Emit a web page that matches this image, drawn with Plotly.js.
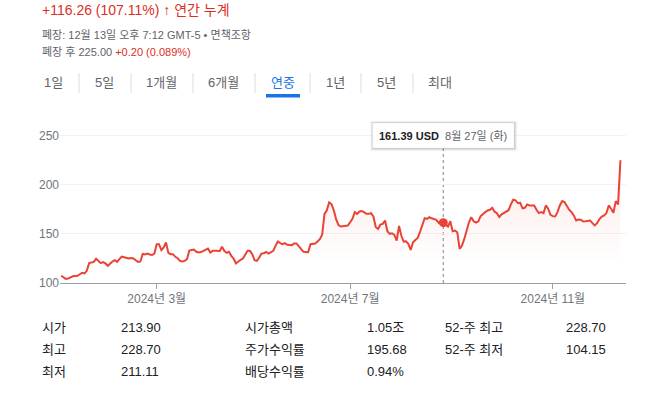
<!DOCTYPE html>
<html>
<head>
<meta charset="utf-8">
<script src="https://cdn.plot.ly/plotly-3.0.1.min.js"></script>
<style>
  html, body { margin: 0; padding: 0; background: #ffffff; }
  #chart { width: 646px; height: 393px; }
</style>
</head>
<body>
<div id="chart"></div>
<script>
// ---------------- DATA ----------------
const dates = [
  '2024-01-02','2024-01-04','2024-01-05','2024-01-09','2024-01-11','2024-01-12','2024-01-16','2024-01-17','2024-01-18','2024-01-19',
  '2024-01-23','2024-01-24','2024-01-25','2024-01-26','2024-01-29','2024-01-30','2024-01-31',
  '2024-02-01','2024-02-02','2024-02-05','2024-02-06','2024-02-07','2024-02-08','2024-02-09','2024-02-12','2024-02-13','2024-02-14',
  '2024-02-15','2024-02-16','2024-02-20','2024-02-21','2024-02-22','2024-02-23','2024-02-26','2024-02-27','2024-02-28','2024-02-29',
  '2024-03-01','2024-03-04','2024-03-05','2024-03-06','2024-03-07','2024-03-08','2024-03-11','2024-03-12','2024-03-13','2024-03-14',
  '2024-03-15','2024-03-18','2024-03-19','2024-03-20','2024-03-21','2024-03-22','2024-03-25','2024-03-26','2024-03-27','2024-03-28',
  '2024-04-01','2024-04-02','2024-04-03','2024-04-04','2024-04-05','2024-04-09','2024-04-10','2024-04-11','2024-04-12','2024-04-15',
  '2024-04-16','2024-04-17','2024-04-18','2024-04-19','2024-04-22','2024-04-23','2024-04-24','2024-04-26','2024-04-29','2024-04-30',
  '2024-05-01','2024-05-02','2024-05-03','2024-05-06','2024-05-07','2024-05-08','2024-05-09','2024-05-10','2024-05-13','2024-05-14',
  '2024-05-15','2024-05-16','2024-05-17','2024-05-20','2024-05-21','2024-05-23','2024-05-24','2024-05-28','2024-05-29','2024-05-30',
  '2024-05-31','2024-06-04','2024-06-05','2024-06-06','2024-06-07','2024-06-10','2024-06-11','2024-06-12','2024-06-13','2024-06-14',
  '2024-06-17','2024-06-18','2024-06-20','2024-06-21','2024-06-24','2024-06-25','2024-06-26','2024-06-27','2024-06-28',
  '2024-07-01','2024-07-02','2024-07-03','2024-07-05','2024-07-08','2024-07-09','2024-07-10','2024-07-11','2024-07-12','2024-07-15',
  '2024-07-16','2024-07-17','2024-07-18','2024-07-19','2024-07-22','2024-07-23','2024-07-24','2024-07-25','2024-07-26','2024-07-29',
  '2024-07-30','2024-07-31',
  '2024-08-01','2024-08-02','2024-08-05','2024-08-06','2024-08-07','2024-08-08','2024-08-09','2024-08-12','2024-08-13','2024-08-14',
  '2024-08-15','2024-08-16','2024-08-19','2024-08-20','2024-08-21','2024-08-22','2024-08-23','2024-08-26','2024-08-27','2024-08-28',
  '2024-08-29','2024-08-30',
  '2024-09-03','2024-09-04','2024-09-05','2024-09-06','2024-09-09','2024-09-10','2024-09-11','2024-09-12','2024-09-13','2024-09-16',
  '2024-09-17','2024-09-18','2024-09-19','2024-09-20','2024-09-23','2024-09-24','2024-09-25','2024-09-26','2024-09-27','2024-09-30',
  '2024-10-01','2024-10-02','2024-10-03','2024-10-04','2024-10-07','2024-10-08','2024-10-09','2024-10-10','2024-10-11','2024-10-14',
  '2024-10-15','2024-10-16','2024-10-17','2024-10-18','2024-10-21','2024-10-22','2024-10-23','2024-10-24','2024-10-25','2024-10-28',
  '2024-10-29','2024-10-30','2024-10-31',
  '2024-11-01','2024-11-04','2024-11-05','2024-11-06','2024-11-07','2024-11-08','2024-11-11','2024-11-12','2024-11-13','2024-11-14',
  '2024-11-15','2024-11-18','2024-11-19','2024-11-20','2024-11-21','2024-11-22','2024-11-25','2024-11-26','2024-11-27','2024-11-29',
  '2024-12-02','2024-12-03','2024-12-04','2024-12-05','2024-12-06','2024-12-09','2024-12-10','2024-12-11','2024-12-12','2024-12-13'
];
const prices = [
  107.4,104.2,104.5,106.8,107.4,109.0,110.4,109.7,112.4,120.2,
  121.5,124.6,122.5,120.2,121.2,119.9,117.5,
  119.9,121.9,123.2,121.5,124.2,126.9,126.2,125.9,124.9,125.5,
  124.9,123.2,121.5,121.9,129.6,129.0,130.0,129.0,128.5,130.0,
  139.5,139.5,133.4,136.1,141.2,130.6,129.3,129.3,126.6,125.2,
  122.5,122.0,122.5,124.2,133.0,133.6,134.1,131.7,131.0,131.5,
  132.7,133.4,135.1,131.0,132.7,132.7,132.4,136.8,132.7,130.6,
  131.7,127.6,124.9,119.8,121.9,123.6,124.9,132.7,132.7,129.3,
  123.2,122.5,125.9,130.0,130.3,131.7,130.0,131.3,132.7,137.8,
  142.2,140.5,139.5,140.5,138.8,138.5,140.2,140.2,137.8,134.4,
  131.7,131.3,139.5,140.2,140.2,142.2,144.6,149.0,170.0,174.0,
  182.0,180.3,174.0,165.0,159.0,157.4,157.5,158.0,158.4,
  161.8,165.2,172.0,170.3,172.7,173.1,172.0,170.3,170.3,171.0,
  167.6,157.0,155.0,159.4,160.1,163.5,152.6,150.0,150.6,149.0,
  143.1,158.0,
  148.0,142.1,142.4,139.7,133.6,141.4,143.8,145.8,152.0,158.0,
  165.9,165.2,166.9,165.8,165.2,164.2,161.1,163.0,161.39,159.1,
  157.4,162.8,
  152.6,153.3,151.6,134.6,138.0,144.8,153.3,161.8,166.9,162.8,
  161.5,162.5,168.0,170.4,172.1,173.8,174.5,176.5,172.5,171.0,
  167.0,169.8,171.1,173.2,174.0,179.9,184.7,184.0,181.3,181.6,
  176.0,176.5,179.9,178.9,178.9,178.9,174.5,171.1,172.1,171.1,
  178.9,175.5,169.4,
  168.0,167.7,172.1,178.9,183.3,182.3,177.9,174.5,172.1,168.7,
  163.6,164.6,164.3,162.6,162.9,163.6,163.6,160.9,158.6,160.9,
  165.0,167.5,168.7,171.1,178.9,175.5,171.5,183.3,180.0,224.8
];
const marketHolidays = ['2024-01-15','2024-02-19','2024-03-29','2024-05-27','2024-06-19','2024-07-04','2024-09-02','2024-11-28'];
const yTicks = [100, 150, 200, 250];
const xTickDates = ['2024-03-01', '2024-07-01', '2024-11-01'];
const xTickLabels = ['2024년 3월', '2024년 7월', '2024년 11월'];

const hoverDate = '2024-08-27';
const hoverPrice = 161.39;
const hoverDateLabel = '8월 27일 (화)';
const currency = 'USD';

const headerChange = '+116.26 (107.11%)';
const headerPeriod = '연간 누계';
const closedNote = '폐장: 12월 13일 오후 7:12 GMT-5 • 면책조항';
const afterHoursPrice = '225.00';
const afterHoursChange = '+0.20 (0.089%)';

const tabs = ['1일', '5일', '1개월', '6개월', '연중', '1년', '5년', '최대'];
const activeTab = '연중';

const statCol1Labels = ['시가', '최고', '최저'];
const statCol1Values = ['213.90', '228.70', '211.11'];
const statCol2Labels = ['시가총액', '주가수익률', '배당수익률'];
const statCol2Values = ['1.05조', '195.68', '0.94%'];
const statCol3Labels = ['52-주 최고', '52-주 최저'];
const statCol3Values = ['228.70', '104.15'];

// ---------------- LAYOUT HELPERS ----------------
const W = 646, H = 393;
const M = { l: 60, r: 20, t: 120, b: 110 };
const PW = W - M.l - M.r, PH = H - M.t - M.b;
const px = x => (x - M.l) / PW;
const py = y => (H - M.b - y) / PH;

const FONT = "'Liberation Sans', Arial, 'Noto Sans CJK KR', sans-serif";
const RED = '#d93025';
const LINE_RED = '#ea4335';
const GRAY = '#5f6368';
const DARK = '#202124';
const BLUE = '#1a73e8';

const annotations = [];
const shapes = [];

function label(text, x, y, size, color, anchor) {
  annotations.push({
    text: text, xref: 'paper', yref: 'paper', x: px(x), y: py(y),
    xanchor: anchor || 'left', yanchor: 'middle', showarrow: false,
    font: { family: FONT, size: size, color: color }
  });
}

// header
label(headerChange + ' <b>↑</b> ' + headerPeriod, 40, 10, 14, RED);
label(closedNote, 40, 35, 11, GRAY);
label('폐장 후 ' + afterHoursPrice + ' <span style="color:' + RED + '">' + afterHoursChange + '</span>', 40, 52, 11, GRAY);

// tabs
const tabCenters = [53, 104, 161, 223, 283, 335, 386, 440];
tabs.forEach((t, i) => {
  label(t, tabCenters[i], 82.5, 13, t === activeTab ? BLUE : GRAY, 'center');
});
[79, 131, 193, 255, 310, 361, 413].forEach(sx => {
  shapes.push({ type: 'line', xref: 'paper', yref: 'paper', x0: px(sx), x1: px(sx), y0: py(73), y1: py(93),
    line: { color: '#dadce0', width: 1 }, layer: 'above' });
});
const ai = tabs.indexOf(activeTab);
shapes.push({ type: 'rect', xref: 'paper', yref: 'paper',
  x0: px(tabCenters[ai] - 17), x1: px(tabCenters[ai] + 17), y0: py(97.5), y1: py(94),
  fillcolor: BLUE, line: { width: 0 }, layer: 'above' });

// stats table
const rowsY = [327, 349, 371];
statCol1Labels.forEach((t, i) => label(t, 40, rowsY[i], 13, DARK));
statCol1Values.forEach((t, i) => label(t, 119, rowsY[i], 13, DARK));
statCol2Labels.forEach((t, i) => label(t, 243, rowsY[i], 13, DARK));
statCol2Values.forEach((t, i) => label(t, 365, rowsY[i], 13, DARK));
statCol3Labels.forEach((t, i) => label(t, 443, rowsY[i], 13, DARK));
statCol3Values.forEach((t, i) => label(t, 564, rowsY[i], 13, DARK));

// hover tooltip
const tipTop = 122.7, tipBot = 148.3;
const tipMid = py((tipTop + tipBot) / 2);
const tipHalfH = (tipBot - tipTop) / 2;
shapes.push({ type: 'line', xref: 'x', yref: 'paper', x0: hoverDate, x1: hoverDate, y0: 0, y1: py(tipBot),
  line: { color: '#9aa0a6', width: 1.3, dash: 'dot' }, layer: 'between' });
[[3, 'rgba(0,0,0,0.04)'], [2, 'rgba(0,0,0,0.06)'], [1, 'rgba(0,0,0,0.08)']].forEach(([s, c]) => {
  shapes.push({ type: 'rect', xref: 'x', yref: 'paper', xsizemode: 'pixel', ysizemode: 'pixel',
    xanchor: hoverDate, yanchor: tipMid, x0: -71 - s + 1, x1: 71 + s, y0: -tipHalfH - s, y1: tipHalfH + s - 1,
    fillcolor: c, line: { width: 0 }, layer: 'above' });
});
shapes.push({ type: 'rect', xref: 'x', yref: 'paper', xsizemode: 'pixel', ysizemode: 'pixel',
  xanchor: hoverDate, yanchor: tipMid, x0: -71, x1: 71, y0: -tipHalfH, y1: tipHalfH,
  fillcolor: '#ffffff', line: { color: 'rgba(0,0,0,0.10)', width: 1 }, layer: 'above' });
annotations.push({
  xref: 'x', yref: 'paper', x: hoverDate, y: tipMid, xanchor: 'center', yanchor: 'middle', showarrow: false,
  text: '<b>' + hoverPrice.toFixed(2) + ' ' + currency + '</b>\u00a0\u00a0<span style="color:' + GRAY + '">' + hoverDateLabel + '</span>',
  font: { family: FONT, size: 11, color: DARK }
});

// ---------------- TRACES ----------------
const priceTrace = {
  type: 'scatter', mode: 'lines', x: dates, y: prices,
  line: { color: LINE_RED, width: 2 },
  fill: 'tozeroy',
  fillgradient: { type: 'vertical', start: 120, stop: 230,
    colorscale: [[0, 'rgba(234,67,53,0)'], [1, 'rgba(234,67,53,0.13)']] },
  hoverinfo: 'skip'
};
const hoverDot = {
  type: 'scatter', mode: 'markers', x: [hoverDate], y: [hoverPrice],
  marker: { color: LINE_RED, size: 9 }, hoverinfo: 'skip'
};

const yTop = 100 + (yTicks[3] - yTicks[0]) * PH / (283 - 135.5);

const layout = {
  width: W, height: H, margin: M,
  paper_bgcolor: '#ffffff', plot_bgcolor: '#ffffff',
  showlegend: false, hovermode: false,
  font: { family: FONT, color: '#70757a' },
  xaxis: {
    type: 'date',
    range: ['2024-01-01 12:00', '2024-12-17 09:36'],
    rangebreaks: [{ bounds: ['sat', 'mon'] }, { values: marketHolidays }],
    tickmode: 'array', tickvals: xTickDates, ticktext: xTickLabels,
    ticks: 'outside', ticklen: 5, tickcolor: '#9aa0a6', tickwidth: 1,
    showline: true, linecolor: '#9aa0a6', linewidth: 1,
    showgrid: false, zeroline: false,
    tickfont: { family: FONT, size: 12, color: '#70757a' }
  },
  yaxis: {
    range: [100, yTop],
    tickmode: 'array', tickvals: yTicks,
    showgrid: true, gridcolor: '#f1f3f4', gridwidth: 1,
    zeroline: false, showline: false, ticks: '',
    tickfont: { family: FONT, size: 12, color: '#70757a' }
  },
  shapes: shapes,
  annotations: annotations
};

Plotly.newPlot('chart', [priceTrace, hoverDot], layout, { displayModeBar: false, staticPlot: true });
</script>
</body>
</html>
